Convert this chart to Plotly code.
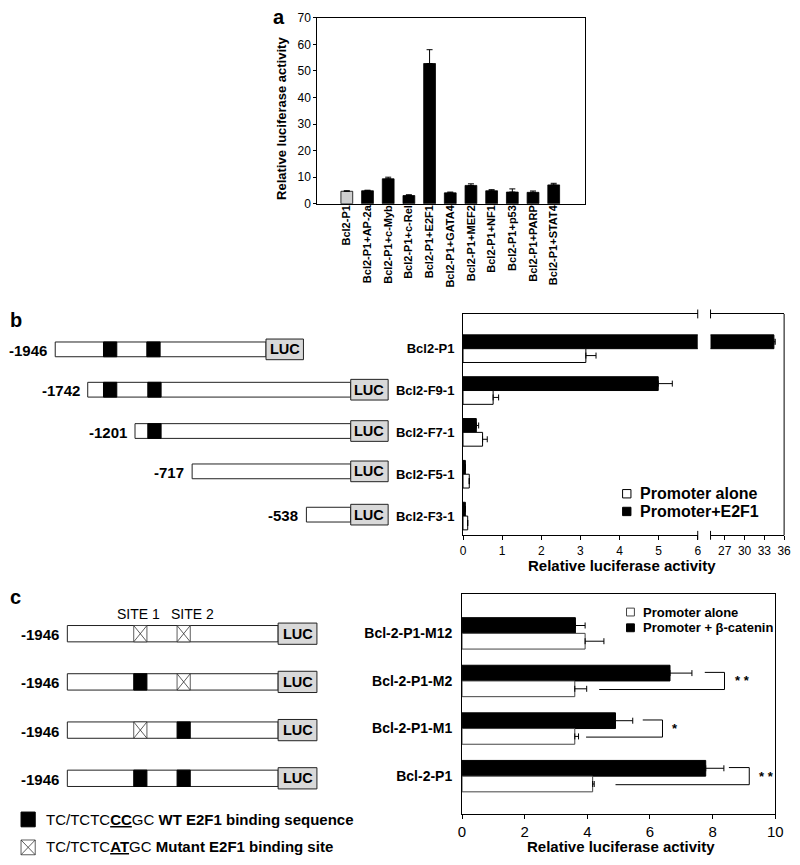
import plotly.graph_objects as go

W, H = 800, 865
FONT = "Liberation Sans, Arial, sans-serif"

# ---------------- data ----------------
# panel a
a_categories = ["Bcl2-P1", "Bcl2-P1+AP-2a", "Bcl2-P1+c-Myb", "Bcl2-P1+c-Rel", "Bcl2-P1+E2F1",
                "Bcl2-P1+GATA4", "Bcl2-P1+MEF2", "Bcl2-P1+NF1", "Bcl2-P1+p53", "Bcl2-P1+PARP",
                "Bcl2-P1+STAT4"]
a_values = [4.7, 4.9, 9.4, 3.1, 52.8, 4.1, 6.9, 4.9, 4.4, 4.3, 7.1]
a_errors = [0.2, 0.2, 0.6, 0.3, 5.2, 0.3, 0.6, 0.4, 1.2, 0.5, 0.6]
a_yticks = [0, 10, 20, 30, 40, 50, 60, 70]

# panel b
b_constructs = ["Bcl2-P1", "Bcl2-F9-1", "Bcl2-F7-1", "Bcl2-F5-1", "Bcl2-F3-1"]
b_start_labels = ["-1946", "-1742", "-1201", "-717", "-538"]
b_alone = [3.14, 0.77, 0.50, 0.16, 0.12]
b_alone_err = [0.26, 0.14, 0.12, 0.0, 0.0]
b_e2f1 = [34.45, 4.99, 0.34, 0.06, 0.06]
b_e2f1_err = [0.2, 0.36, 0.06, 0.0, 0.0]
b_ticks_left = [0, 1, 2, 3, 4, 5, 6]
b_ticks_right = [27, 30, 33, 36]

# panel c
c_constructs = ["Bcl-2-P1-M12", "Bcl-2-P1-M2", "Bcl-2-P1-M1", "Bcl-2-P1"]
c_alone = [3.93, 3.60, 3.60, 4.17]
c_alone_err = [0.60, 0.38, 0.12, 0.05]
c_bcat = [3.62, 6.64, 4.90, 7.78]
c_bcat_err = [0.31, 0.70, 0.55, 0.58]
c_site_kinds = [["mut", "mut"], ["wt", "mut"], ["mut", "wt"], ["wt", "wt"]]
c_sig_rows = [1, 2, 3]
c_sig_upper_from = [7.75, 5.77, 8.52]
c_sig_bracket = [8.38, 6.40, 9.17]
c_sig_lower_from = [4.38, 3.96, 4.90]
c_sig_text = ["* *", "*", "* *"]
c_xticks = [0, 2, 4, 6, 8, 10]


def X(px):
    return px / W


def Y(py):
    return 1 - py / H


fig = go.Figure()

# ---------------- panel a ----------------
na = len(a_categories)
fig.add_trace(go.Bar(
    x=list(range(na)), y=a_values, width=0.57,
    marker=dict(color=["#cfcfcf"] + ["black"] * (na - 1), line=dict(color="black", width=0.8)),
    error_y=dict(type="data", array=a_errors, arrayminus=[0] * na, symmetric=False,
                 color="black", thickness=1, width=3),
    xaxis="x", yaxis="y", showlegend=False, hoverinfo="skip"))

# ---------------- panel b ----------------
nb = len(b_constructs)
rows_b = list(range(nb))
for xa in ["x2", "x3"]:
    fig.add_trace(go.Bar(
        y=rows_b, x=b_e2f1, orientation="h", offset=-0.33, width=0.33,
        marker=dict(color="black", line=dict(color="black", width=1)),
        error_x=dict(type="data", array=b_e2f1_err, arrayminus=[0] * nb, symmetric=False,
                     color="black", thickness=1, width=3),
        xaxis=xa, yaxis="y2", showlegend=False, hoverinfo="skip"))
fig.add_trace(go.Bar(
    y=rows_b, x=b_alone, orientation="h", offset=0.0, width=0.33,
    marker=dict(color="white", line=dict(color="black", width=1)),
    error_x=dict(type="data", array=b_alone_err, arrayminus=[0] * nb, symmetric=False,
                 color="black", thickness=1, width=3),
    xaxis="x2", yaxis="y2", showlegend=False, hoverinfo="skip"))

# ---------------- panel c ----------------
nc = len(c_constructs)
rows_c = list(range(nc))
fig.add_trace(go.Bar(
    y=rows_c, x=c_bcat, orientation="h", offset=-0.33, width=0.33,
    marker=dict(color="black", line=dict(color="black", width=1)),
    error_x=dict(type="data", array=c_bcat_err, arrayminus=[0] * nc, symmetric=False,
                 color="black", thickness=1, width=3),
    xaxis="x4", yaxis="y4", showlegend=False, hoverinfo="skip"))
fig.add_trace(go.Bar(
    y=rows_c, x=c_alone, orientation="h", offset=0.0, width=0.33,
    marker=dict(color="white", line=dict(color="#444", width=1)),
    error_x=dict(type="data", array=c_alone_err, arrayminus=[0] * nc, symmetric=False,
                 color="black", thickness=1, width=3),
    xaxis="x4", yaxis="y4", showlegend=False, hoverinfo="skip"))

annotations = []
for r, xu, xb, xl, txt in zip(c_sig_rows, c_sig_upper_from, c_sig_bracket, c_sig_lower_from, c_sig_text):
    fig.add_trace(go.Scatter(
        x=[xu, xb, xb, xl], y=[r - 0.18, r - 0.18, r + 0.18, r + 0.18], mode="lines",
        line=dict(color="black", width=1), xaxis="x4", yaxis="y4",
        showlegend=False, hoverinfo="skip"))
    annotations.append(dict(x=xb, y=r, xref="x4", yref="y4", text="<b>" + txt + "</b>",
                            showarrow=False, xanchor="left", xshift=8,
                            font=dict(family=FONT, size=13, color="black")))

# ---------------- axes ----------------
axis_common = dict(showgrid=False, zeroline=False, linecolor="black", linewidth=1,
                   tickcolor="black", tickwidth=1)

fig.update_layout(
    width=W, height=H, margin=dict(l=0, r=0, t=0, b=0),
    paper_bgcolor="white", plot_bgcolor="white", barmode="overlay",
    font=dict(family=FONT, color="black"),
    xaxis=dict(domain=[X(318), X(590)], anchor="y", range=[-1.43, 11.52],
               tickvals=list(range(na)), ticktext=a_categories, tickangle=-90,
               ticks="", showline=True, mirror=True, ticklabelstandoff=-4,
               tickfont=dict(family=FONT, size=11, weight="bold", color="black"), **axis_common),
    yaxis=dict(domain=[Y(200), Y(11)], anchor="x", range=[0, 70], tickvals=a_yticks,
               ticks="outside", ticklen=3, showline=True, mirror=True,
               tickfont=dict(family=FONT, size=12, color="black"), **axis_common),
    xaxis2=dict(domain=[X(466), X(704.3)], anchor="y2", range=[0, 6], tickvals=b_ticks_left,
                ticks="outside", ticklen=4, showline=True, mirror=True,
                tickfont=dict(family=FONT, size=12, color="black"), **axis_common),
    xaxis3=dict(domain=[X(717.3), X(792)], anchor="y2", range=[24.84, 36], tickvals=b_ticks_right,
                ticks="outside", ticklen=4, showline=True, mirror=True,
                tickfont=dict(family=FONT, size=12, color="black"), **axis_common),
    yaxis2=dict(domain=[Y(537), Y(312)], anchor="x2", range=[4.46, -0.83],
                tickvals=rows_b, ticktext=b_constructs, ticks="", showline=True,
                ticklabelstandoff=5,
                tickfont=dict(family=FONT, size=13, weight="bold", color="black"), **axis_common),
    xaxis4=dict(domain=[X(465), X(783)], anchor="y4", range=[0, 10], tickvals=c_xticks,
                ticks="outside", ticklen=4, showline=True, mirror=True,
                tickfont=dict(family=FONT, size=15, color="black"), **axis_common),
    yaxis4=dict(domain=[Y(820), Y(597)], anchor="x4", range=[3.79, -0.82],
                tickvals=rows_c, ticktext=c_constructs, ticks="", showline=True, mirror=True,
                ticklabelstandoff=6,
                tickfont=dict(family=FONT, size=14, weight="bold", color="black"), **axis_common),
)

shapes = []


def rect(x0, y0, x1, y1, fill, lc="black", lw=1):
    shapes.append(dict(type="rect", xref="paper", yref="paper", x0=X(x0), x1=X(x1),
                       y0=Y(y1), y1=Y(y0), fillcolor=fill, line=dict(color=lc, width=lw)))


def seg(x0, y0, x1, y1, lw=1, lc="black"):
    shapes.append(dict(type="line", xref="paper", yref="paper", x0=X(x0), x1=X(x1),
                       y0=Y(y0), y1=Y(y1), line=dict(color=lc, width=lw)))


def text(x, y, s, size, anchor="left", bold=False, angle=0):
    annotations.append(dict(x=X(x), y=Y(y), xref="paper", yref="paper",
                            text=("<b>%s</b>" % s) if bold else s, showarrow=False,
                            xanchor=anchor, yanchor="middle", textangle=angle,
                            font=dict(family=FONT, size=size, color="black")))


# panel b: right border and axis break marks
shapes.append(dict(type="line", xref="x3 domain", yref="y2 domain", x0=1, x1=1, y0=0, y1=1,
                   line=dict(color="black", width=1)))
for xr, xv in [("x2 domain", 1), ("x3 domain", 0)]:
    for yv in [0, 1]:
        shapes.append(dict(type="line", xref=xr, yref="y2 domain", x0=xv, x1=xv,
                           y0=yv - 0.02, y1=yv + 0.02, line=dict(color="black", width=1)))

# panel labels and axis titles
text(271, 10, "a", 20, bold=True)
text(4, 318, "b", 20, bold=True)
text(4, 600, "c", 20, bold=True)
text(281, 113, "Relative luciferase activity", 13, anchor="center", bold=True, angle=-90)
text(627, 568, "Relative luciferase activity", 15, anchor="center", bold=True)
text(626, 853, "Relative luciferase activity", 15, anchor="center", bold=True)

# legends
rect(628, 490.5, 636.5, 499, "white", lw=1)
rect(628, 508.5, 636.5, 517, "black", lw=1)
text(644, 495, "Promoter alone", 16, bold=True)
text(644, 513, "Promoter+E2F1", 16, bold=True)
rect(632, 611, 640, 619, "white", lc="#444", lw=1)
rect(632, 627, 640, 635, "black", lw=1)
text(647, 615, "Promoter alone", 13, bold=True)
text(647, 631, "Promoter + β-catenin", 13, bold=True)

# ---------------- panel b diagrams ----------------
b_row_y = [348, 389, 431, 472, 516]
b_box_left = [52, 85, 133, 191, 307]
b_luc_left = [266, 352, 352, 352, 352]
b_sites = [[101, 145], [101, 146], [146], [], []]
for i in range(nb):
    y = b_row_y[i]
    rect(b_box_left[i], y - 7.5, b_luc_left[i], y + 7.5, "white", lc="#222")
    for s in b_sites[i]:
        rect(s, y - 7.5, s + 13.5, y + 7.5, "black")
    rect(b_luc_left[i], y - 10.5, b_luc_left[i] + 38, y + 10.5, "#d9d9d9", lc="#222")
    text(b_luc_left[i] + 19, y, "LUC", 14.5, anchor="center", bold=True)
    text(b_box_left[i] - 6, y + 1, b_start_labels[i], 15, anchor="right", bold=True)

# ---------------- panel c diagrams ----------------
c_row_y = [637, 686, 735, 784]
c_site_x = [131.7, 175.7]
text(137, 617, "SITE 1", 14, anchor="center")
text(191, 617, "SITE 2", 14, anchor="center")


def site(x0, y0, x1, y1, kind):
    if kind == "wt":
        rect(x0, y0, x1, y1, "black")
    else:
        rect(x0, y0, x1, y1, "white", lc="#333", lw=0.8)
        seg(x0, y0, x1, y1, lw=0.8, lc="#333")
        seg(x0, y1, x1, y0, lw=0.8, lc="#333")


for i in range(nc):
    y = c_row_y[i]
    rect(64.3, y - 8.3, 278.3, y + 8.3, "white", lc="#222")
    for sx, kind in zip(c_site_x, c_site_kinds[i]):
        site(sx, y - 8.3, sx + 13.4, y + 8.3, kind)
    rect(278.3, y - 10.8, 317.7, y + 10.8, "#d9d9d9", lc="#222")
    text(298, y, "LUC", 14.5, anchor="center", bold=True)
    text(57.5, y + 1, "-1946", 15, anchor="right", bold=True)

# key
site(17.3, 818.3, 31.7, 833.3, "wt")
site(17.3, 846.7, 31.7, 861.7, "mut")
text(41, 826, "TC/TCTC<b><u>CC</u></b>GC <b>WT E2F1 binding sequence</b>", 15)
text(41, 853.5, "TC/TCTC<b><u>AT</u></b>GC <b>Mutant E2F1 binding site</b>", 15)

fig.update_layout(shapes=shapes, annotations=annotations)
fig.write_html("out.html", config={"displayModeBar": False},
               post_script="document.body.style.margin='0';document.body.style.overflow='hidden';")
